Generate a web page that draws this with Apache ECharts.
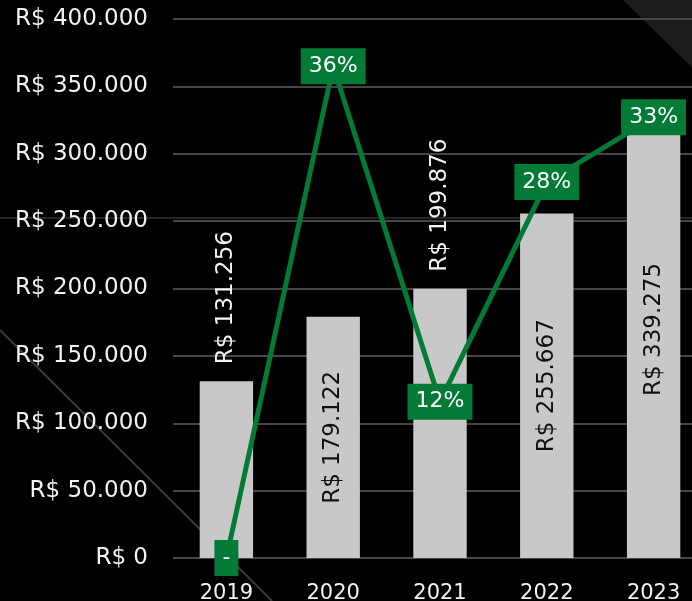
<!DOCTYPE html>
<html>
<head>
<meta charset="utf-8">
<script src="https://cdn.jsdelivr.net/npm/echarts@6/dist/echarts.min.js"></script>
<style>
  html, body { margin: 0; padding: 0; background: #000; overflow: hidden; }
  #chart { width: 710px; height: 601px; }
</style>
</head>
<body>
<div id="chart"></div>
<script>
// dados
const years = ['2019', '2020', '2021', '2022', '2023']
const revenue = [131256, 179122, 199876, 255667, 339275]
const growth = [0, 36.5, 11.6, 27.9, 32.7]
const growthLabels = ['-', '36%', '12%', '28%', '33%']
const yTicks = [0, 50000, 100000, 150000, 200000, 250000, 300000, 350000, 400000]

// rótulos das barras que ficam acima da barra
const outsideLabels = [0, 2]

const fontFamily = 'DejaVu Sans'
const green = '#037b36'

const fmtBRL = v => 'R$ ' + v.toLocaleString('de-DE')

const chart = echarts.init(document.getElementById('chart'))

const barData = revenue.map((v, i) => {
  const outside = outsideLabels.includes(i)
  return {
    value: v,
    label: outside
      ? { position: 'top', distance: 17, align: 'left', verticalAlign: 'middle', color: '#f2f2f2' }
      : { position: 'inside', align: 'center', verticalAlign: 'middle', color: '#111' }
  }
})

chart.setOption({
  backgroundColor: '#000',
  animation: false,
  graphic: [
    {
      type: 'polygon', z: -10, silent: true,
      shape: { points: [[623, 0], [710, 0], [710, 85]] },
      style: { fill: '#1c1c1c' }
    },
    {
      type: 'line', z: -10, silent: true,
      shape: { x1: 0, y1: 330, x2: 272, y2: 601 },
      style: { stroke: '#3a3a3a', lineWidth: 2 }
    },
    {
      type: 'line', z: -10, silent: true,
      shape: { x1: 0, y1: 218, x2: 710, y2: 218 },
      style: { stroke: '#262626', lineWidth: 2 }
    }
  ],
  grid: { left: 173, right: 3, top: 19, bottom: 43, outerBoundsMode: 'none' },
  xAxis: {
    type: 'category',
    data: years,
    axisLine: { show: false },
    axisTick: { show: false },
    axisLabel: { color: '#f2f2f2', fontFamily, fontSize: 21, margin: 25 }
  },
  yAxis: [
    {
      type: 'value',
      min: 0,
      max: 400000,
      interval: 50000,
      axisLine: { show: false },
      axisTick: { show: false },
      splitLine: { lineStyle: { color: '#474747', width: 2 } },
      axisLabel: {
        color: '#f2f2f2', fontFamily, fontSize: 23, margin: 25,
        formatter: v => yTicks.includes(v) ? fmtBRL(v) : ''
      }
    },
    { type: 'value', min: 0, max: 40, show: false, splitLine: { show: false } }
  ],
  series: [
    {
      type: 'bar',
      data: barData,
      barWidth: '50%',
      itemStyle: { color: '#c8c8c8' },
      label: {
        show: true,
        rotate: 90,
        fontFamily,
        fontSize: 23,
        formatter: p => fmtBRL(p.value)
      },
      z: 2
    },
    {
      type: 'line',
      yAxisIndex: 1,
      data: growth,
      symbol: 'circle',
      symbolSize: 2,
      itemStyle: { color: green },
      lineStyle: { color: green, width: 5 },
      label: {
        show: true,
        position: 'inside',
        backgroundColor: green,
        color: '#fff',
        fontFamily,
        fontSize: 22,
        padding: [7, 8],
        formatter: p => growthLabels[p.dataIndex]
      },
      labelLayout: { hideOverlap: false },
      z: 5
    }
  ]
})
</script>
</body>
</html>
